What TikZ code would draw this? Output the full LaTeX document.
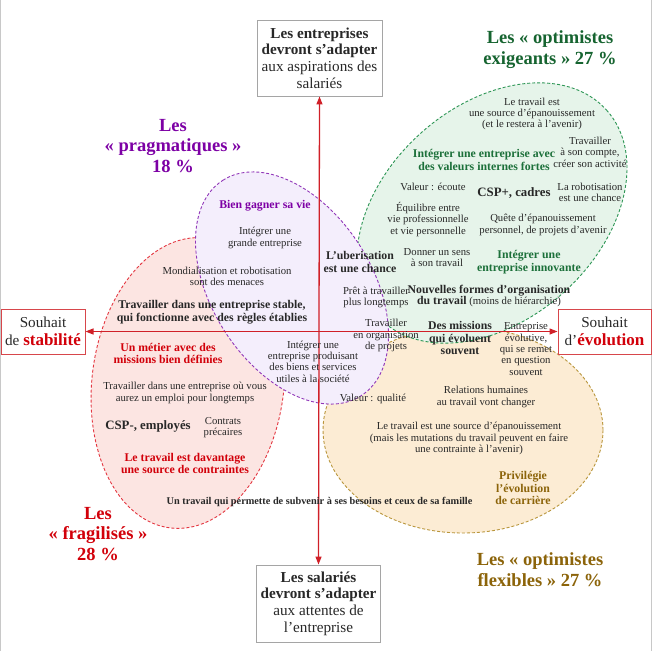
\documentclass[tikz,border=0pt]{standalone}
\usepackage{fontspec}
\setmainfont{Liberation Serif}
\usetikzlibrary{arrows.meta}
\definecolor{axisred}{RGB}{208,32,40}
\definecolor{darktext}{RGB}{40,40,40}
\definecolor{framegray}{RGB}{200,200,200}
\definecolor{boxgray}{RGB}{165,165,165}
\definecolor{boxred}{RGB}{215,70,75}
\definecolor{grnline}{RGB}{45,150,85}
\definecolor{grnfill}{RGB}{230,244,234}
\definecolor{grntitle}{RGB}{22,100,48}
\definecolor{grntext}{RGB}{28,112,58}
\definecolor{purline}{RGB}{145,55,185}
\definecolor{purfill}{RGB}{244,238,252}
\definecolor{purtitle}{RGB}{125,0,165}
\definecolor{redline}{RGB}{228,55,65}
\definecolor{redfill}{RGB}{252,229,226}
\definecolor{redtitle}{RGB}{210,0,10}
\definecolor{orgline}{RGB}{185,150,60}
\definecolor{orgfill}{RGB}{252,236,212}
\definecolor{orgtitle}{RGB}{140,100,10}
\begin{document}
\begin{tikzpicture}[x=1pt,y=-1pt,
  ell/.style={dash pattern=on 3pt off 2pt, line width=0.9pt},
  lbl/.style={inner sep=0pt, align=center, text=darktext},
  sm/.style={lbl, font=\fontsize{10.7}{11.4}\selectfont},
  bd/.style={lbl, font=\fontsize{11.8}{12.9}\selectfont\bfseries},
  bdbig/.style={lbl, font=\fontsize{12.8}{14}\selectfont\bfseries},
  ttl/.style={inner sep=0pt, align=center, font=\fontsize{18.5}{20.7}\selectfont\bfseries},
  pole/.style={draw=boxgray, line width=0.9pt, fill=white, inner sep=0pt, align=center, text=darktext, font=\fontsize{15.2}{16.6}\selectfont},
  side/.style={draw=boxred, line width=1pt, fill=white, inner sep=0pt, align=center, text=darktext, font=\fontsize{15.2}{18}\selectfont},
  axis/.style={draw=axisred, line width=1.3pt, {Triangle[length=8pt,width=6pt]}-{Triangle[length=8pt,width=6pt]}}
]
\useasboundingbox (0,0) rectangle (653,651);
\fill[white] (0,0) rectangle (653,651);
\draw[framegray, line width=0.8pt] (0.5,0) -- (0.5,651);
\draw[framegray, line width=0.8pt] (651.5,0) -- (651.5,651);

% ellipses
\draw[ell, draw=redline, fill=redfill, rotate around={83:(188,383)}] (188,383) ellipse [x radius=146, y radius=96];
\draw[ell, draw=orgline, fill=orgfill] (463,430) ellipse [x radius=140, y radius=103];
\draw[ell, draw=grnline, fill=grnfill, rotate around={42:(492,213)}] (492,213) ellipse [x radius=154, y radius=107];
\draw[ell, draw=purline, fill=purfill, rotate around={122.7:(292,288)}] (292,288) ellipse [x radius=128, y radius=80];

% pole boxes
\node[pole, minimum width=125pt, minimum height=76pt] (top) at (319.5,58) {\textbf{Les entreprises}\\\textbf{devront s’adapter}\\aux aspirations des\\salariés};
\node[pole, minimum width=124pt, minimum height=77pt] (bottom) at (318.5,603.5) {\textbf{Les salariés}\\\textbf{devront s’adapter}\\aux attentes de\\l’entreprise};
\node[side, minimum width=84pt, minimum height=45pt] (left) at (43,331.5) {Souhait\\de {\color{redtitle}\fontsize{17}{18}\selectfont\bfseries stabilité}};
\node[side, minimum width=93pt, minimum height=45pt] (right) at (604.5,331.5) {Souhait\\d’{\color{redtitle}\fontsize{17}{18}\selectfont\bfseries évolution}};

% axes
\draw[axis] (top.south) -- (bottom.north);
\draw[axis] (left.east) -- (right.west);

% titles
\node[ttl, text=grntitle] (tg) at (550,49.5) {Les «~optimistes\\exigeants~» 27~\%};
\node[ttl, text=purtitle] (tp) at (173,146) {Les\\«~pragmatiques~»\\18~\%};
\node[ttl, text=redtitle] (tr) at (98,534) {Les\\«~fragilisés~»\\28~\%};
\node[ttl, text=orgtitle] (to) at (540,569.5) {Les «~optimistes\\flexibles~» 27~\%};

% green region
\node[sm] (t1) at (532,114) {Le travail est\\une source d’épanouissement\\(et le restera à l’avenir)};
\node[sm] (t2) at (590,152) {Travailler\\à son compte,\\créer son activité};
\node[bd, text=grntext] (t3) at (484,160) {Intégrer une entreprise avec\\des valeurs internes fortes};
\node[sm] (t4) at (433,187) {Valeur : écoute};
\node[bdbig] (t5) at (514,193) {CSP+, cadres};
\node[sm] (t6) at (590,192.5) {La robotisation\\est une chance};
\node[sm] (t7) at (428,219.5) {Équilibre entre\\vie professionnelle\\et vie personnelle};
\node[sm] (t8) at (543,225) {Quête d’épanouissement\\personnel, de projets d’avenir};
\node[bd] (t9) at (360,262) {L’uberisation\\est une chance};
\node[sm] (t10) at (437,257.5) {Donner un sens\\à son travail};
\node[bd, text=grntext] (t11) at (529,262.5) {Intégrer une\\entreprise innovante};
\node[sm] (t12) at (376,297.5) {Prêt à travailler\\plus longtemps};
\node[sm] (t13) at (489,296) {\textbf{\fontsize{11.8}{12.8}\selectfont Nouvelles formes d’organisation}\\\textbf{\fontsize{11.8}{12.8}\selectfont du travail} (moins de hiérarchie)};
\node[sm] (t14) at (386,335.5) {Travailler\\en organisation\\de projets};
\node[bd] (t15) at (460,338) {Des missions\\qui évoluent\\souvent};
\node[sm] (t16) at (526,349) {Entreprise\\évolutive,\\qui se remet\\en question\\souvent};

% orange region
\node[sm] (t17) at (486,397) {Relations humaines\\au travail vont changer};
\node[sm] (t18) at (373,399) {Valeur : qualité};
\node[sm] (t19) at (469,438.5) {Le travail est une source d’épanouissement\\(mais les mutations du travail peuvent en faire\\une contrainte à l’avenir)};
\node[bd, text=orgtitle] (t20) at (523,488) {Privilégie\\l’évolution\\de carrière};
\node[lbl, font=\fontsize{10.3}{11}\selectfont\bfseries] (t21) at (319.5,502) {Un travail qui permette de subvenir à ses besoins et ceux de sa famille};

% purple region
\node[bd, text=purtitle] (t22) at (265,206) {Bien gagner sa vie};
\node[sm] (t23) at (265,238) {Intégrer une\\grande entreprise};
\node[sm] (t24) at (227,276.5) {Mondialisation et robotisation\\sont des menaces};
\node[bd] (t25) at (212,312) {Travailler dans une entreprise stable,\\qui fonctionne avec des règles établies};
\node[sm] (t26) at (313,361.5) {Intégrer une\\entreprise produisant\\des biens et services\\utiles à la société};

% red region
\node[bd, text=redtitle] (t27) at (168,353.5) {Un métier avec des\\missions bien définies};
\node[sm] (t28) at (185,393) {Travailler dans une entreprise où vous\\aurez un emploi pour longtemps};
\node[bdbig] (t29) at (148,426) {CSP-, employés};
\node[sm] (t30) at (223,427.5) {Contrats\\précaires};
\node[bd, text=redtitle] (t31) at (185,463.5) {Le travail est davantage\\une source de contraintes};
\end{tikzpicture}
\end{document}
